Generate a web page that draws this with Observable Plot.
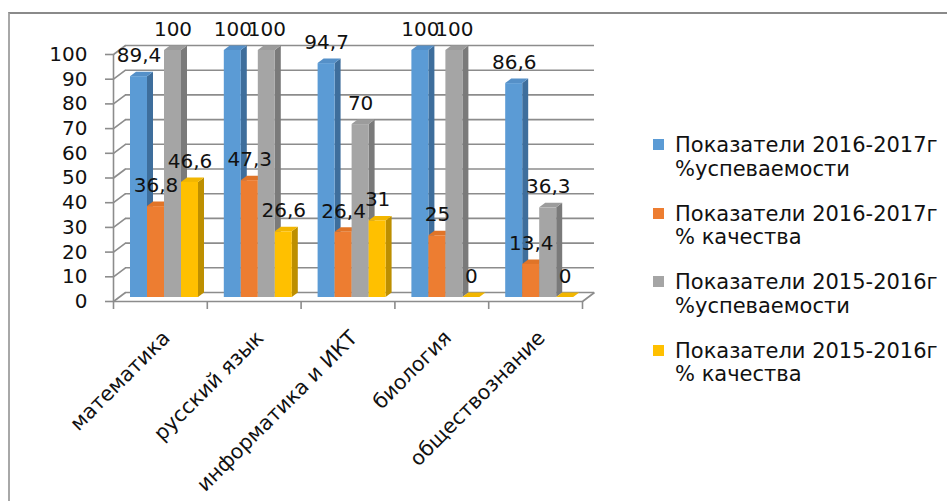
<!DOCTYPE html>
<html>
<head>
<meta charset="utf-8">
<script src="https://cdn.jsdelivr.net/npm/d3@7"></script>
<script src="https://cdn.jsdelivr.net/npm/@observablehq/plot@0.6"></script>
<style>
  body { margin: 0; background: #fff; font-family: "DejaVu Sans", sans-serif; }
  #wrap { position: relative; width: 947px; height: 501px; overflow: hidden; background: #fff; }
  #frame { position: absolute; left: 8px; top: 12px; width: 1000px; height: 600px;
           border-top: 2px solid #8a8a8a; border-left: 2px solid #a8a8a8; }
  #chart { position: absolute; left: 0; top: 0; }
  #legend { position: absolute; left: 0; top: 0; }
  .item { position: absolute; left: 653px; font-size: 21px; line-height: 23.5px; color: #111; white-space: nowrap; }
  .sw { position: absolute; left: 0; top: 5px; width: 11px; height: 11px; }
  .txt { position: absolute; left: 22px; top: 0; }
</style>
</head>
<body>
<div id="wrap">
  <div id="frame"></div>
  <div id="chart"></div>
  <div id="legend"></div>
</div>
<script>
// ---- data ----
const categories = ["математика", "русский язык", "информатика и ИКТ", "биология", "обществознание"];
const seriesLine1 = ["Показатели 2016-2017г", "Показатели 2016-2017г", "Показатели 2015-2016г", "Показатели 2015-2016г"];
const seriesLine2 = ["%успеваемости", "% качества", "%успеваемости", "% качества"];
const usp2017 = [89.4, 100, 94.7, 100, 86.6];
const kach2017 = [36.8, 47.3, 26.4, 25, 13.4];
const usp2016 = [100, 100, 70, 100, 36.3];
const kach2016 = [46.6, 26.6, 31, 0, 0];
const yTicks = [0, 10, 20, 30, 40, 50, 60, 70, 80, 90, 100];

const colors = ["#5B9BD5", "#ED7D31", "#A5A5A5", "#FFC000"];
const sideColors = ["#3E6E9C", "#B05C22", "#7A7A7A", "#BD8F00"];
const topColors = ["#5590C8", "#E07428", "#9C9C9C", "#F2B600"];
const series = [usp2017, kach2017, usp2016, kach2016];

// ---- layout ----
const W = 640, H = 501, mL = 113, mR = 58, mT = 54, mB = 200;
const kx = (W - mL - mR) / categories.length;   // px per category unit
const ky = (H - mT - mB) / 100;                 // px per value unit
const wallX = 12 / kx, wallY = 9 / ky;          // depth of the 3D box
const barW = 17 / kx, barPad = 13 / kx;
const sideX = 6 / kx, sideY = 4.5 / ky;         // depth of each bar
const barDx = 4, barDy = -4;
const grid = "#8c8c8c";

const rows = [];
series.forEach((vals, i) => vals.forEach((v, c) => {
  const x1 = c + barPad + i * barW;
  rows.push({key: i + "-" + c, i, c, v, x1, x2: x1 + barW});
}));
const sidePts = rows.flatMap(d => [
  {key: d.key, fill: sideColors[d.i], x: d.x2, y1: 0, y2: d.v},
  {key: d.key, fill: sideColors[d.i], x: d.x2 + sideX, y1: sideY, y2: d.v + sideY}
]);
const topPts = rows.flatMap(d => [
  {key: d.key, fill: topColors[d.i], y: d.v, x1: d.x1, x2: d.x2},
  {key: d.key, fill: topColors[d.i], y: d.v + sideY, x1: d.x1 + sideX, x2: d.x2 + sideX}
]);
const fmt = v => String(v).replace(".", ",");
const n = categories.length;

const chart = Plot.plot({
  width: W, height: H,
  marginLeft: mL, marginRight: mR, marginTop: mT, marginBottom: mB,
  x: {type: "linear", domain: [0, n], axis: null},
  y: {type: "linear", domain: [0, 100], axis: null},
  color: {type: "identity"},
  style: {fontFamily: "DejaVu Sans", fontSize: "20px", background: "transparent", overflow: "visible"},
  marks: [
    // back wall gridlines
    Plot.ruleY(yTicks, {y: d => d + wallY, x1: wallX, x2: n + wallX, stroke: grid, strokeWidth: 1.6}),
    // left wall gridlines
    Plot.link(yTicks, {x1: 0, y1: d => d, x2: wallX, y2: d => d + wallY, stroke: grid, strokeWidth: 1.6}),
    // floor right edge
    Plot.link([0], {x1: n, y1: 0, x2: n + wallX, y2: wallY, stroke: grid, strokeWidth: 1.6}),
    // front axes
    Plot.ruleY([0], {x1: 0, x2: n, stroke: grid, strokeWidth: 1.6}),
    Plot.ruleX([0], {y1: 0, y2: 100, stroke: grid, strokeWidth: 1.6}),
    Plot.ruleX(d3.range(n + 1), {y1: 0, y2: -8 / ky, stroke: grid, strokeWidth: 1.6}),
    Plot.axisY({ticks: yTicks, tickSize: 8, tickPadding: 18, fontSize: 20, stroke: grid, fill: "#111", label: null, strokeWidth: 1.6}),
    // bars: side, top, front
    Plot.areaY(sidePts, {x: "x", y1: "y1", y2: "y2", z: "key", fill: "fill", dx: barDx, dy: barDy}),
    Plot.areaX(topPts, {y: "y", x1: "x1", x2: "x2", z: "key", fill: "fill", dx: barDx, dy: barDy}),
    Plot.rect(rows, {x1: "x1", x2: "x2", y1: 0, y2: "v", fill: d => colors[d.i], dx: barDx, dy: barDy}),
    // value labels
    Plot.text(rows, {x: d => (d.x1 + d.x2) / 2, y: "v", text: d => fmt(d.v), dx: barDx, dy: barDy - 21,
      fontSize: 20, fill: "#111", lineAnchor: "middle"}),
    // category labels
    Plot.text(categories, {x: (d, i) => i + 0.5, y: 0, text: d => d, rotate: -45, textAnchor: "end",
      lineAnchor: "middle", dx: 6, dy: 33, fontSize: 20.5, fill: "#111"})
  ]
});
document.getElementById("chart").appendChild(chart);

// ---- legend ----
const legend = document.getElementById("legend");
seriesLine1.forEach((l1, i) => {
  const it = document.createElement("div");
  it.className = "item";
  it.style.top = (134 + i * 68.5) + "px";
  it.innerHTML = `<div class="sw" style="background:${colors[i]}"></div><div class="txt">${l1}<br>${seriesLine2[i]}</div>`;
  legend.appendChild(it);
});
</script>
</body>
</html>
